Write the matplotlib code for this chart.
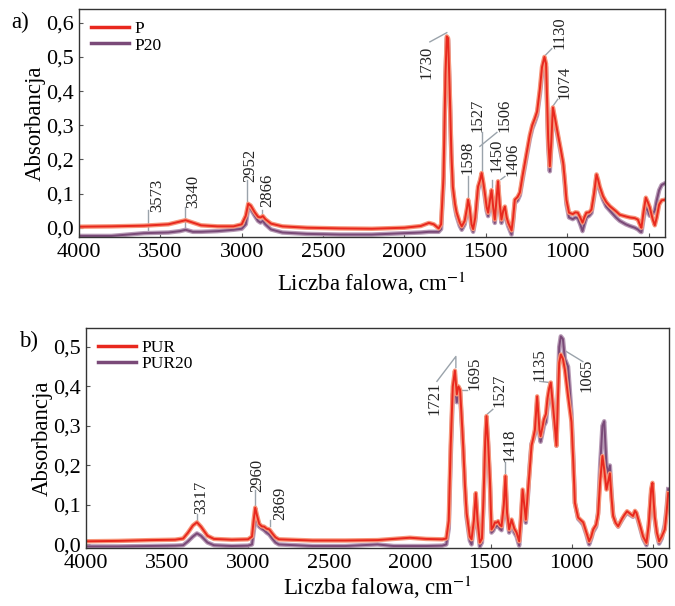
import matplotlib
matplotlib.use('Agg')
import matplotlib.pyplot as plt
from matplotlib.ticker import FixedLocator
from matplotlib.lines import Line2D

plt.rcParams['font.family'] = ['Liberation Serif', 'DejaVu Serif']
plt.rcParams['mathtext.fontset'] = 'stix'

# ---- panel a: P / P20 ----
w_a = [4000, 3800, 3600, 3450, 3380, 3345, 3300, 3250, 3150, 3050, 3000, 2975, 2960, 2945,
       2920, 2900, 2885, 2870, 2855, 2820, 2750, 2600, 2400, 2200, 2000, 1900, 1850, 1820,
       1790, 1775, 1760, 1748, 1740, 1732, 1722, 1712, 1703, 1690, 1680, 1660, 1648, 1630,
       1615, 1609, 1600, 1588, 1578, 1565, 1548, 1535, 1526, 1515, 1506, 1495, 1486, 1475,
       1465, 1455, 1445, 1435, 1425, 1415, 1404, 1393, 1383, 1372, 1363, 1342, 1332, 1322,
       1305, 1291, 1275, 1260, 1245, 1230, 1215, 1199, 1185, 1168, 1155, 1140, 1130, 1122,
       1117, 1107, 1098, 1088, 1075, 1056, 1040, 1025, 1015, 1005, 989, 966, 950, 935, 920,
       906, 895, 882, 865, 851, 835, 820, 810, 800, 780, 760, 738, 700, 677, 640, 615, 585,
       566, 550, 544, 530, 517, 505, 493, 475, 462, 450, 435, 420, 400]
p = [0.003, 0.004, 0.006, 0.010, 0.018, 0.022, 0.015, 0.007, 0.004, 0.004, 0.010, 0.035, 0.070, 0.065,
     0.045, 0.032, 0.030, 0.034, 0.025, 0.012, 0.004, 0.000, -0.002, -0.003, 0.000, 0.005, 0.014, 0.010,
     -0.002, 0.010, 0.150, 0.450, 0.560, 0.555, 0.400, 0.220, 0.120, 0.070, 0.045, 0.015, 0.004, 0.020,
     0.060, 0.082, 0.060, 0.010, -0.004, 0.030, 0.120, 0.140, 0.160, 0.130, 0.100, 0.060, 0.044, 0.080,
     0.110, 0.060, 0.024, 0.080, 0.136, 0.070, 0.024, 0.050, 0.062, 0.030, 0.015, -0.008, 0.030, 0.082,
     0.090, 0.103, 0.150, 0.190, 0.230, 0.270, 0.300, 0.320, 0.340, 0.406, 0.470, 0.500, 0.480, 0.350,
     0.260, 0.180, 0.250, 0.352, 0.320, 0.270, 0.230, 0.190, 0.140, 0.082, 0.044, 0.040, 0.045, 0.044, 0.030,
     0.015, 0.030, 0.044, 0.045, 0.053, 0.100, 0.156, 0.140, 0.120, 0.092, 0.075, 0.063, 0.048, 0.038, 0.033, 0.030, 0.028,
     0.024, 0.005, 0.000, 0.050, 0.088, 0.075, 0.060, 0.025, 0.007, 0.030, 0.068, 0.080, 0.082]
p20 = [-0.024, -0.024, -0.016, -0.014, -0.010, -0.006, -0.012, -0.012, -0.010, -0.006, -0.003, 0.010, 0.058, 0.055,
       0.035, 0.020, 0.015, 0.020, 0.010, -0.005, -0.014, -0.018, -0.020, -0.020, -0.016, -0.014, -0.012, -0.012,
       -0.012, -0.004, 0.130, 0.440, 0.555, 0.550, 0.390, 0.210, 0.110, 0.060, 0.035, 0.005, -0.006, 0.010,
       0.050, 0.070, 0.050, 0.000, -0.012, 0.020, 0.110, 0.135, 0.150, 0.120, 0.090, 0.050, 0.034, 0.070,
       0.100, 0.050, 0.014, 0.070, 0.125, 0.060, 0.014, 0.040, 0.050, 0.020, 0.005, -0.020, 0.020, 0.072,
       0.080, 0.095, 0.140, 0.180, 0.220, 0.260, 0.290, 0.310, 0.330, 0.390, 0.450, 0.490, 0.470, 0.330,
       0.240, 0.165, 0.240, 0.345, 0.310, 0.262, 0.222, 0.182, 0.130, 0.070, 0.030, 0.025, 0.030, 0.028, 0.010,
       -0.010, 0.010, 0.030, 0.035, 0.043, 0.090, 0.150, 0.130, 0.110, 0.082, 0.062, 0.050, 0.030, 0.020, 0.010, 0.005, 0.000,
       -0.005, -0.012, -0.013, 0.030, 0.060, 0.050, 0.035, 0.040, 0.050, 0.080, 0.110, 0.125, 0.130]

# ---- panel b: PUR / PUR20 ----
w_b = [4000, 3800, 3600, 3450, 3400, 3370, 3340, 3315, 3290, 3250, 3210, 3100, 3000, 2975,
       2965, 2955, 2945, 2930, 2915, 2900, 2885, 2868, 2850, 2830, 2809, 2600, 2400, 2200,
       2100, 2000, 1900, 1800, 1775, 1760, 1748, 1735, 1722, 1710, 1700, 1690, 1680, 1671,
       1660, 1650, 1630, 1619, 1605, 1593, 1582, 1568, 1555, 1545, 1535, 1527, 1517, 1506,
       1496, 1485, 1475, 1465, 1455, 1445, 1434, 1420, 1410, 1400, 1387, 1372, 1355, 1341,
       1325, 1315, 1304, 1294, 1284, 1270, 1260, 1249, 1238, 1228, 1214, 1200, 1193, 1180,
       1173, 1160, 1150, 1140, 1130, 1116, 1105, 1095, 1085, 1078, 1068, 1055, 1043, 1023,
       1002, 990, 981, 961, 945, 930, 910, 893, 880, 868, 850, 838, 825, 811, 800, 786, 775,
       765, 755, 745, 730, 714, 690, 675, 659, 640, 622, 610, 601, 580, 560, 539, 525, 510,
       502, 495, 488, 475, 461, 445, 426, 415, 405]
pur = [0.008, 0.009, 0.011, 0.012, 0.015, 0.030, 0.048, 0.056, 0.045, 0.022, 0.014, 0.012, 0.013, 0.020,
       0.060, 0.093, 0.075, 0.052, 0.046, 0.045, 0.040, 0.038, 0.028, 0.018, 0.013, 0.010, 0.010, 0.011,
       0.014, 0.017, 0.014, 0.013, 0.015, 0.060, 0.250, 0.400, 0.440, 0.380, 0.400, 0.392, 0.320, 0.250,
       0.150, 0.080, 0.020, 0.013, 0.060, 0.130, 0.060, 0.005, 0.015, 0.120, 0.260, 0.325, 0.260, 0.165,
       0.038, 0.045, 0.056, 0.055, 0.059, 0.050, 0.046, 0.100, 0.173, 0.080, 0.038, 0.063, 0.040, 0.030,
       0.008, 0.060, 0.139, 0.100, 0.063, 0.140, 0.190, 0.250, 0.270, 0.290, 0.375, 0.290, 0.274, 0.300,
       0.316, 0.330, 0.370, 0.395, 0.410, 0.350, 0.300, 0.250, 0.380, 0.460, 0.481, 0.470, 0.443, 0.375,
       0.310, 0.200, 0.105, 0.068, 0.062, 0.056, 0.030, 0.008, 0.020, 0.038, 0.050, 0.076, 0.160, 0.224, 0.190, 0.139, 0.160,
       0.180, 0.120, 0.072, 0.055, 0.046, 0.065, 0.075, 0.084, 0.078, 0.072, 0.085, 0.080, 0.050, 0.020, 0.004, 0.050, 0.140,
       0.156, 0.110, 0.070, 0.030, 0.008, 0.020, 0.038, 0.080, 0.130]
pur20 = [-0.005, -0.005, -0.004, -0.003, -0.002, 0.008, 0.020, 0.028, 0.022, 0.005, -0.002, -0.004, -0.003, 0.000,
         0.030, 0.062, 0.060, 0.045, 0.040, 0.036, 0.030, 0.025, 0.015, 0.005, 0.000, -0.004, -0.004, 0.000,
         -0.004, -0.004, -0.004, -0.003, 0.000, 0.040, 0.220, 0.380, 0.400, 0.360, 0.385, 0.385, 0.310, 0.240,
         0.140, 0.070, 0.010, 0.000, 0.050, 0.120, 0.050, -0.005, 0.005, 0.110, 0.250, 0.315, 0.250, 0.155,
         0.030, 0.035, 0.045, 0.045, 0.050, 0.040, 0.036, 0.090, 0.160, 0.070, 0.030, 0.055, 0.030, 0.020,
         -0.003, 0.050, 0.125, 0.090, 0.055, 0.130, 0.200, 0.255, 0.265, 0.280, 0.360, 0.280, 0.260, 0.285,
         0.300, 0.310, 0.350, 0.385, 0.400, 0.340, 0.290, 0.250, 0.400, 0.500, 0.527, 0.520, 0.470, 0.450,
         0.330, 0.210, 0.105, 0.065, 0.058, 0.050, 0.025, 0.000, 0.015, 0.032, 0.045, 0.080, 0.200, 0.300, 0.312, 0.200, 0.180,
         0.200, 0.130, 0.075, 0.055, 0.045, 0.062, 0.072, 0.080, 0.075, 0.070, 0.082, 0.076, 0.045, 0.015, -0.002, 0.045, 0.130,
         0.150, 0.105, 0.065, 0.025, 0.002, 0.015, 0.050, 0.090, 0.140]

x_ticks = [4000, 3500, 3000, 2500, 2000, 1500, 1000, 500]
y_ticks_a = [0.0, 0.1, 0.2, 0.3, 0.4, 0.5, 0.6]
y_ticks_b = [0.0, 0.1, 0.2, 0.3, 0.4, 0.5]

# peak labels: (text, text position, leader line points)
peaks_a = [
    ('3573', (3521, 0.047), [(3576, -0.015), (3576, 0.053)]),
    ('3340', (3300, 0.059), [(3349, 0.003), (3349, 0.062)]),
    ('2952', (2950, 0.135), [(2968, 0.074), (2968, 0.141)]),
    ('2866', (2845, 0.062), [(2876, 0.024), (2876, 0.053)]),
    ('1730', (1862, 0.435), [(1844, 0.544), (1740, 0.571)]),
    ('1598', (1611, 0.156), [(1611, 0.082), (1611, 0.150)]),
    ('1527', (1549, 0.279), [(1525, 0.162), (1525, 0.279)]),
    ('1506', (1383, 0.279), [(1537, 0.238), (1432, 0.279)]),
    ('1450', (1432, 0.162), [(1463, 0.118), (1463, 0.141)]),
    ('1406', (1334, 0.150), [(1408, 0.141), (1383, 0.150)]),
    ('1130', (1045, 0.524), [(1138, 0.503), (1095, 0.524)]),
    ('1074', (1015, 0.376), [(1088, 0.356), (1058, 0.376)]),
]
peaks_b = [
    ('3317', (3286, 0.076), [(3315, 0.058), (3315, 0.076)]),
    ('2960', (2940, 0.134), [(2957, 0.094), (2957, 0.139)]),
    ('2869', (2802, 0.063), [(2864, 0.046), (2864, 0.063)]),
    ('1721', (1846, 0.329), [(1833, 0.413), (1716, 0.476), (1716, 0.448)]),
    ('1695', (1599, 0.392), [(1691, 0.392), (1648, 0.392)]),
    ('1527', (1444, 0.349), [(1525, 0.329), (1488, 0.342)]),
    ('1418', (1383, 0.208), [(1414, 0.172), (1414, 0.208)]),
    ('1135', (1198, 0.413), [(1198, 0.413), (1136, 0.410)]),
    ('1065', (907, 0.385), [(1056, 0.494), (932, 0.463)]),
]

RED, RED_GLOW = '#e8281e', '#f7957a'
PUR, PUR_GLOW = '#7a4a78', '#b79ab5'
GRAY = '#9aa3ab'

fig = plt.figure(figsize=(6.75, 6.06), dpi=100)
ax_a = fig.add_axes([0.117, 0.609, 0.868, 0.376])
ax_b = fig.add_axes([0.1274, 0.0957, 0.8637, 0.363])


def draw_panel(ax, w, s1, s2, names, peaks, yticks, ylim, letter, xpad):
    ax.plot(w, s2, color=PUR_GLOW, lw=3.2, solid_joinstyle='round')
    ax.plot(w, s2, color=PUR, lw=1.4)
    ax.plot(w, s1, color=RED_GLOW, lw=3.2, solid_joinstyle='round')
    ax.plot(w, s1, color=RED, lw=1.4)
    for txt, (tx, ty), line in peaks:
        xs = [pt[0] for pt in line]
        ys = [pt[1] for pt in line]
        ax.plot(xs, ys, color=GRAY, lw=1.0, zorder=1)
        ax.text(tx, ty, txt, rotation=90, ha='center', va='bottom', fontsize=12, color='#222222')
    ax.set_xlim(4000, 400)
    ax.set_ylim(*ylim)
    ax.xaxis.set_major_locator(FixedLocator(x_ticks))
    ax.set_xticklabels([str(t) for t in x_ticks])
    ax.yaxis.set_major_locator(FixedLocator(yticks))
    ax.set_yticklabels([('%.1f' % t).replace('.', ',') for t in yticks])
    ax.tick_params(direction='in', length=3, labelsize=16, pad=4, color='#555555')
    for sp in ax.spines.values():
        sp.set_color('#333333')
        sp.set_linewidth(1.0)
    ax.set_xlabel('Liczba falowa, cm$^{-1}$', fontsize=16.5, labelpad=xpad)
    ax.set_ylabel('Absorbancja', fontsize=16.5, labelpad=0)
    hd = [Line2D([], [], color=RED, lw=2.5), Line2D([], [], color=PUR, lw=2.5)]
    ax.legend(hd, names, loc='upper left', frameon=False, fontsize=12.5,
              handlelength=2.2, handletextpad=0.3, labelspacing=0.0, borderaxespad=0.3)
    ax.text(-0.115, 0.94, letter, transform=ax.transAxes, fontsize=16.5, ha='left', va='center')


draw_panel(ax_a, w_a, p, p20, ['P', 'P20'], peaks_a, y_ticks_a, (-0.027, 0.64), 'a)', 6)
draw_panel(ax_b, w_b, pur, pur20, ['PUR', 'PUR20'], peaks_b, y_ticks_b, (-0.009, 0.548), 'b)', 1)

fig.savefig('out.png', dpi=100)
